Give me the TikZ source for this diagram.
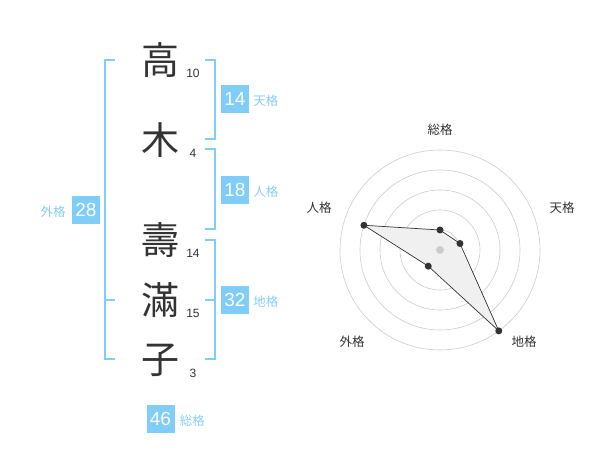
\documentclass[tikz,border=0pt]{standalone}
\usepackage{fontspec}
\setmainfont{Liberation Sans}
\newfontfamily\cjk{Noto Sans CJK JP}
\usetikzlibrary{calc,positioning}
\definecolor{kaku}{HTML}{80CDF8}
\definecolor{kakutext}{HTML}{86CEF5}
\definecolor{moji}{HTML}{333333}
\begin{document}
\begin{tikzpicture}[x=1pt,y=1pt,
  kanji/.style={text=moji, inner sep=0pt, font=\cjk\fontsize{38}{38}\selectfont},
  kakusu/.style={text=moji, inner sep=0pt, font=\fontsize{12}{12}\selectfont},
  score/.style={fill=kaku, text=white, minimum size=28pt, inner sep=0pt, font=\fontsize{19}{19}\selectfont},
  kakuname/.style={text=kakutext, inner sep=0pt, yshift=-2pt, font=\cjk\fontsize{12.5}{12.5}\selectfont},
  bracket/.style={draw=kaku, line width=1.5pt},
  ring/.style={draw=black!20, line width=0.6pt},
  dot/.style={circle, fill=moji, inner sep=0pt, minimum size=7pt},
  axis/.style={text=moji, inner sep=0pt, font=\cjk\fontsize{12.5}{12.5}\selectfont}]
\useasboundingbox (0,0) rectangle (600,470);

% name
\node[kanji] (a) at (160,410) {高};
\node[kanji] (b) at (160,330) {木};
\node[kanji] (c) at (160,230) {壽};
\node[kanji] (d) at (160,170) {滿};
\node[kanji] (e) at (160,110) {子};

\node[kakusu] (a1) at (193,397) {10};
\node[kakusu] (b1) at (193,317) {4};
\node[kakusu] (c1) at (193,217) {14};
\node[kakusu] (d1) at (193,157) {15};
\node[kakusu] (e1) at (193,97) {3};

% brackets
\coordinate (t1) at (205,410);
\coordinate (t2) at (215,410);
\coordinate (t3) at (215,331);
\coordinate (t4) at (205,331);
\path[bracket] (t1) -- (t2) -- (t3) -- (t4);
\coordinate (j1) at (205,321);
\coordinate (j2) at (215,321);
\coordinate (j3) at (215,241);
\coordinate (j4) at (205,241);
\path[bracket] (j1) -- (j2) -- (j3) -- (j4);
\coordinate (c1t) at (205,230);
\coordinate (c2t) at (215,230);
\coordinate (c3t) at (215,111);
\coordinate (c4t) at (205,111);
\coordinate (c5t) at (205,170);
\coordinate (c6t) at (215,170);
\path[bracket] (c1t) -- (c2t) -- (c3t) -- (c4t);
\path[bracket] (c5t) -- (c6t);
\coordinate (g1) at (115,410);
\coordinate (g2) at (105,410);
\coordinate (g3) at (105,111);
\coordinate (g4) at (115,111);
\coordinate (g5) at (105,170);
\coordinate (g6) at (115,170);
\path[bracket] (g1) -- (g2) -- (g3) -- (g4);
\path[bracket] (g5) -- (g6);

% scores
\node[score] (f) at (235,371) {14};
\node[kakuname, right=4pt of f] (f1) {天格};
\node[score] (g) at (235,280) {18};
\node[kakuname, right=4pt of g] (g1n) {人格};
\node[score] (h) at (86,260) {28};
\node[kakuname, left=6pt of h] (h1) {外格};
\node[score] (i) at (235,170) {32};
\node[kakuname, right=4pt of i] (i1) {地格};
\node[score] (k) at (160.5,51) {46};
\node[kakuname, right=5pt of k] (k1) {総格};

% chart
\coordinate (o) at (440,220);
\path[ring] (o) circle (20) (o) circle (40) (o) circle (60) (o) circle (80) (o) circle (100);
\coordinate (so) at ($(o)+(90:20)$);
\coordinate (te) at ($(o)+(18:21)$);
\coordinate (ch) at ($(o)+(-54:100)$);
\coordinate (ga) at ($(o)+(-126:20)$);
\coordinate (ji) at ($(o)+(162:80)$);
\path[fill=black!6, draw=moji, line width=0.7pt] (so) -- (te) -- (ch) -- (ga) -- (ji) -- cycle;
\node[circle, fill=black!20, inner sep=0pt, minimum size=8pt] (m) at (o) {};
\node[dot] (p1) at (so) {};
\node[dot] (p2) at (te) {};
\node[dot] (p3) at (ch) {};
\node[dot] (p4) at (ga) {};
\node[dot] (p5) at (ji) {};

\node[axis] (q1) at (440,340) {総格};
\node[axis] (q2) at (562,262) {天格};
\node[axis] (q3) at (524,128) {地格};
\node[axis] (q4) at (352,128) {外格};
\node[axis] (q5) at (319,262) {人格};
\end{tikzpicture}
\end{document}
